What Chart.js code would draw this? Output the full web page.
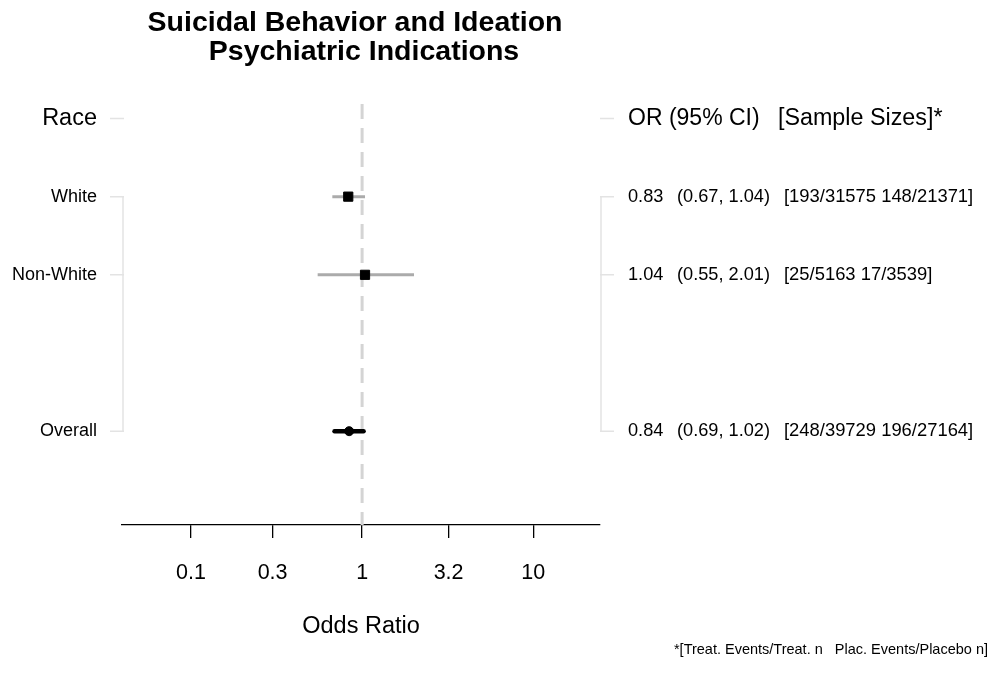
<!DOCTYPE html>
<html>
<head>
<meta charset="utf-8">
<script src="https://cdn.jsdelivr.net/npm/chart.js@4/dist/chart.umd.min.js"></script>
<style>
  html, body { margin: 0; padding: 0; background: #ffffff; }
  #wrap { width: 995px; height: 681px; position: relative; }
</style>
</head>
<body>
<div id="wrap"><canvas id="c" width="995" height="681"></canvas></div>
<script>
// ---------------- data ----------------
const titleLines = ['Suicidal Behavior and Ideation', 'Psychiatric Indications'];
const groupHeader = 'Race';
const categories = ['White', 'Non-White', 'Overall'];
const rowIndex = [1, 2, 4];
const orValues = [0.83, 1.04, 0.84];
const ciLow = [0.67, 0.55, 0.69];
const ciHigh = [1.04, 2.01, 1.02];
const sampleSizes = ['[193/31575 148/21371]', '[25/5163 17/3539]', '[248/39729 196/27164]'];
const isOverall = [false, false, true];
const tickValues = [0.1, 0.3, 1, 3.2, 10];
const tickLabels = ['0.1', '0.3', '1', '3.2', '10'];
const refValue = 1;
const xAxisTitle = 'Odds Ratio';
const rightHeader = ['OR (95% CI)', '[Sample Sizes]*'];
const footnote = '*[Treat. Events/Treat. n   Plac. Events/Placebo n]';

// ---------------- layout constants ----------------
const FONT = '"Liberation Sans", Arial, Helvetica, sans-serif';
const X_MIN = Math.pow(10, -1.4025);
const X_MAX = Math.pow(10, 1.3896);
const Y_MIN = -0.185;
const Y_MAX = 5.2;

const fmt = v => v.toFixed(2);

// ---------------- datasets ----------------
const markerDataset = {
  type: 'scatter',
  label: 'OR',
  data: categories.map((c, i) => ({ x: orValues[i], y: rowIndex[i] })),
  pointStyle: isOverall.map(o => o ? 'circle' : 'rect'),
  pointRadius: isOverall.map(o => o ? 4.5 : 6.5),
  pointBackgroundColor: '#000000',
  pointBorderColor: '#000000',
  pointBorderWidth: 1,
  order: 0
};

const ciDatasets = categories.map((c, i) => ({
  type: 'line',
  label: 'CI ' + c,
  data: [{ x: ciLow[i], y: rowIndex[i] }, { x: ciHigh[i], y: rowIndex[i] }],
  borderColor: isOverall[i] ? '#000000' : '#ababab',
  borderWidth: isOverall[i] ? 4.5 : 3,
  borderCapStyle: isOverall[i] ? 'round' : 'butt',
  pointRadius: 0,
  fill: false,
  order: 1
}));

const refDataset = {
  type: 'line',
  label: 'ref',
  data: [{ x: refValue, y: Y_MIN }, { x: refValue, y: Y_MAX }],
  borderColor: '#d4d4d4',
  borderWidth: 3,
  borderDash: [15, 9],
  pointRadius: 0,
  fill: false,
  order: 2
};

// ---------------- text / decoration plugin ----------------
function txt(ctx, s, x, y, size, align, bold) {
  ctx.save();
  ctx.font = (bold ? 'bold ' : '') + size + 'px ' + FONT;
  ctx.fillStyle = '#000000';
  ctx.textAlign = align;
  ctx.textBaseline = 'middle';
  ctx.fillText(s, x, y);
  ctx.restore();
}

const forestPlugin = {
  id: 'forestText',
  afterDraw(chart) {
    const ctx = chart.ctx;
    const ys = chart.scales.y;
    const ca = chart.chartArea;
    const py = r => ys.getPixelForValue(r);

    // title
    txt(ctx, titleLines[0], 355, 23, 28.5, 'center', true);
    txt(ctx, titleLines[1], 364, 52, 28.5, 'center', true);

    // brackets
    ctx.save();
    ctx.strokeStyle = '#e3e3e3';
    ctx.lineWidth = 1.5;
    const lx0 = ca.left - 12, lx1 = ca.left + 2;
    const rx0 = ca.right, rx1 = ca.right + 14;
    const rows = [0].concat(rowIndex);
    ctx.beginPath();
    rows.forEach(r => {
      ctx.moveTo(lx0, py(r)); ctx.lineTo(lx1, py(r));
      ctx.moveTo(rx0, py(r)); ctx.lineTo(rx1, py(r));
    });
    ctx.moveTo(ca.left + 1, py(rowIndex[0])); ctx.lineTo(ca.left + 1, py(rowIndex[rowIndex.length - 1]));
    ctx.moveTo(ca.right + 1, py(rowIndex[0])); ctx.lineTo(ca.right + 1, py(rowIndex[rowIndex.length - 1]));
    ctx.stroke();
    ctx.restore();

    // left labels
    const lxText = ca.left - 25;
    txt(ctx, groupHeader, lxText, py(0), 23.5, 'right', false);
    categories.forEach((c, i) => txt(ctx, c, lxText, py(rowIndex[i]), 18, 'right', false));

    // right header + values
    const rx = ca.right + 28;
    txt(ctx, rightHeader[0], rx, py(0), 23, 'left', false);
    txt(ctx, rightHeader[1], rx + 150, py(0), 23.3, 'left', false);
    categories.forEach((c, i) => {
      const y = py(rowIndex[i]);
      txt(ctx, fmt(orValues[i]), rx, y, 18.2, 'left', false);
      txt(ctx, '(' + fmt(ciLow[i]) + ', ' + fmt(ciHigh[i]) + ')', rx + 49, y, 18.2, 'left', false);
      txt(ctx, sampleSizes[i], rx + 156, y, 18.4, 'left', false);
    });

    // footnote
    txt(ctx, footnote, 988, 650, 14.5, 'right', false);
  }
};

// ---------------- chart ----------------
new Chart(document.getElementById('c'), {
  data: { datasets: [markerDataset].concat(ciDatasets, [refDataset]) },
  options: {
    responsive: false,
    animation: false,
    layout: { padding: { left: 122, right: 395, top: 104, bottom: 0 } },
    plugins: { legend: { display: false }, tooltip: { enabled: false }, title: { display: false } },
    scales: {
      x: {
        type: 'logarithmic',
        min: X_MIN,
        max: X_MAX,
        bounds: 'data',
        grid: { display: true, drawOnChartArea: false, drawTicks: true, tickLength: 13, color: '#000000', lineWidth: 1.3 },
        border: { display: true, color: '#000000', width: 1.3 },
        afterBuildTicks: scale => { scale.ticks = tickValues.map(v => ({ value: v })); },
        afterFit: scale => { scale.height = 156; },
        ticks: {
          autoSkip: false,
          maxRotation: 0,
          padding: 22,
          color: '#000000',
          font: { family: FONT, size: 21.5 },
          callback: (v, i) => tickLabels[i]
        },
        title: {
          display: true,
          text: xAxisTitle,
          color: '#000000',
          font: { family: FONT, size: 23.5 },
          padding: { top: 0, bottom: 40 }
        }
      },
      y: {
        type: 'linear',
        reverse: true,
        min: Y_MIN,
        max: Y_MAX,
        display: false
      }
    }
  },
  plugins: [forestPlugin]
});
</script>
</body>
</html>
